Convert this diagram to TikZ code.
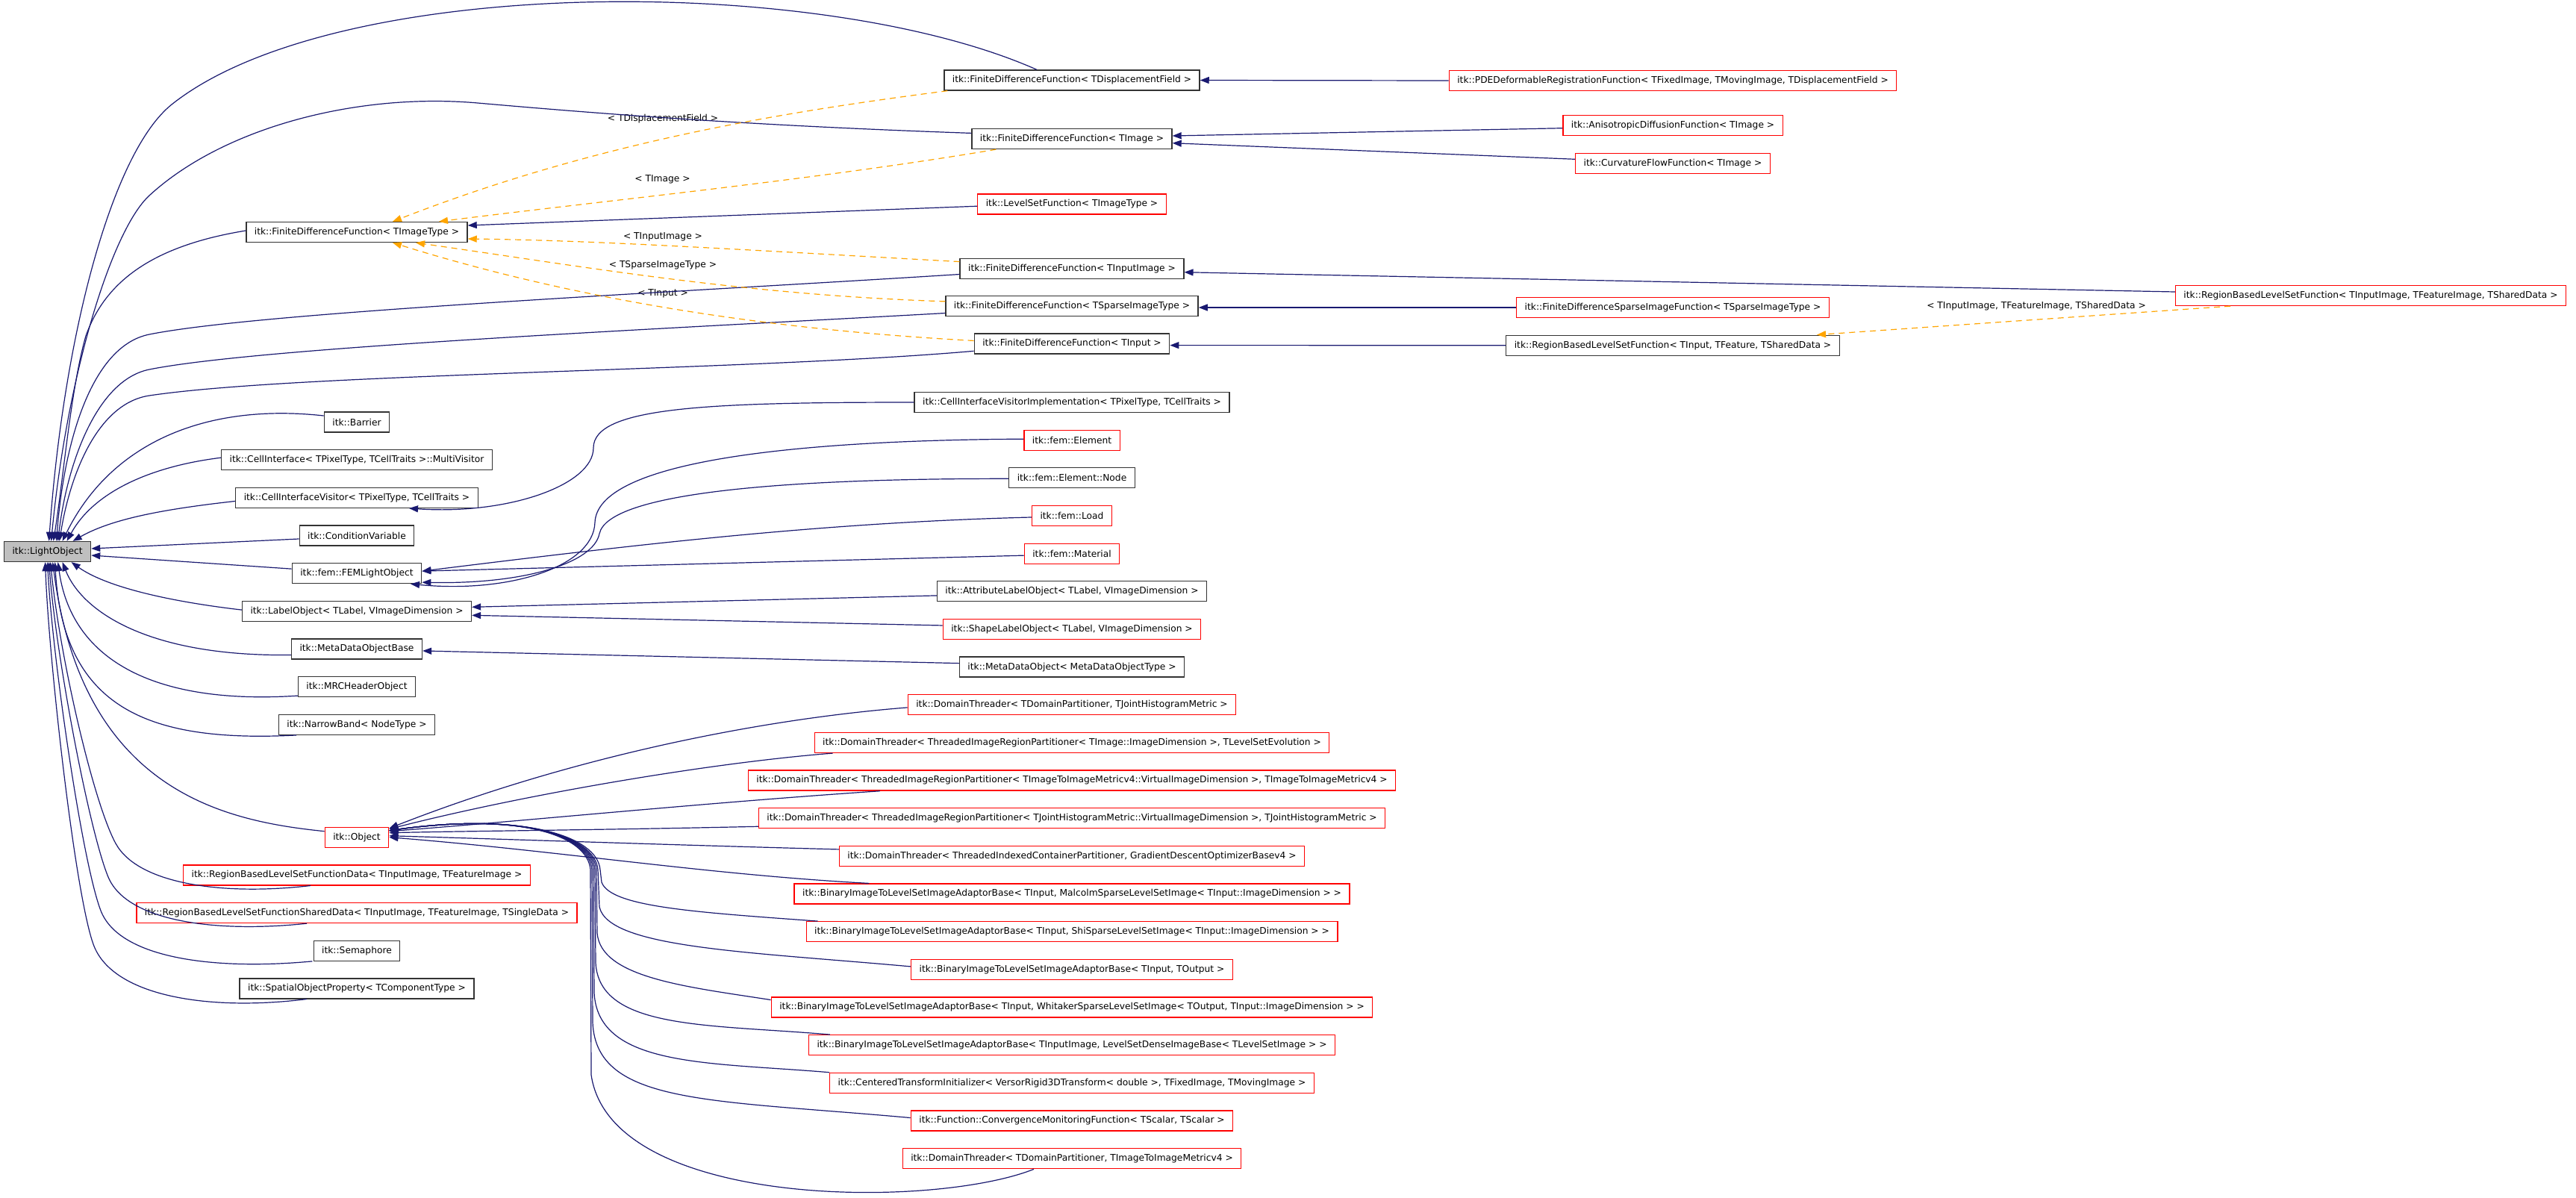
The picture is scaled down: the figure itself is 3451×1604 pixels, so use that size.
\documentclass[tikz,border=0pt]{standalone}
\usepackage{fontspec}
\setmainfont{DejaVu Sans}
\usepackage{xcolor}
\usetikzlibrary{arrows.meta,positioning}

\definecolor{edgeblue}{RGB}{25,25,112}
\definecolor{tmplorange}{RGB}{255,165,0}

\begin{document}
\begin{tikzpicture}[x=1pt, y=-1pt, node distance=50.66pt]
  % Styles
  \tikzstyle{cls} = [rectangle, draw=black!80, fill=white, line width=1.3pt, inner xsep=11pt, inner ysep=0pt, minimum height=27pt, font=\fontsize{12.25}{14}\selectfont]
  \tikzstyle{clsred} = [cls, draw=red]
  \tikzstyle{root} = [cls, fill=black!25]
  \tikzstyle{inh} = [draw=edgeblue, line width=1.2pt, -{Triangle[length=12pt, width=9pt]}]
  \tikzstyle{tmpl} = [draw=tmplorange, line width=1.2pt, dash pattern=on 8pt off 6pt, -{Triangle[length=12pt, width=9pt]}]
  \tikzstyle{lbl} = [inner sep=0pt, font=\fontsize{12.25}{14}\selectfont]

  \useasboundingbox (0,0) rectangle (3451,1604);
  \fill[white] (0,0) rectangle (3451,1604);

  % Nodes: base column
  \node [root] (lightobj) at (63.6,739) {itk::LightObject};
  \node [cls] (fdfTImageType) at (478,311) {itk::FiniteDifferenceFunction< TImageType >};
  \node [cls] (barrier) at (478,565.5) {itk::Barrier};
  \node [cls, below of=barrier] (multivisitor) {itk::CellInterface< TPixelType, TCellTraits >::MultiVisitor};
  \node [cls, below of=multivisitor] (civ) {itk::CellInterfaceVisitor< TPixelType, TCellTraits >};
  \node [cls, below of=civ] (condvar) {itk::ConditionVariable};
  \node [cls, below of=condvar] (femlight) {itk::fem::FEMLightObject};
  \node [cls, below of=femlight] (labelobj) {itk::LabelObject< TLabel, VImageDimension >};
  \node [cls, below of=labelobj] (mdobase) {itk::MetaDataObjectBase};
  \node [cls, below of=mdobase] (mrc) {itk::MRCHeaderObject};
  \node [cls, below of=mrc] (narrowband) {itk::NarrowBand< NodeType >};
  \node [clsred] (object) at (478,1121.7) {itk::Object};
  \node [clsred, below of=object] (rbdata) {itk::RegionBasedLevelSetFunctionData< TInputImage, TFeatureImage >};
  \node [clsred, below of=rbdata] (rbshared) {itk::RegionBasedLevelSetFunctionSharedData< TInputImage, TFeatureImage, TSingleData >};
  \node [cls, below of=rbshared] (semaphore) {itk::Semaphore};
  \node [cls, below of=semaphore] (spatialprop) {itk::SpatialObjectProperty< TComponentType >};

  % Nodes: second column
  \node [cls] (fdfTDisp) at (1436,107.5) {itk::FiniteDifferenceFunction< TDisplacementField >};
  \node [cls] (fdfTImage) at (1436,186) {itk::FiniteDifferenceFunction< TImage >};
  \node [clsred] (lsf) at (1436,273.5) {itk::LevelSetFunction< TImageType >};
  \node [cls] (fdfTInputImage) at (1436,359.7) {itk::FiniteDifferenceFunction< TInputImage >};
  \node [cls] (fdfTSparse) at (1436,410) {itk::FiniteDifferenceFunction< TSparseImageType >};
  \node [cls] (fdfTInput) at (1436,460.6) {itk::FiniteDifferenceFunction< TInput >};
  \node [cls] (civimpl) at (1436,539) {itk::CellInterfaceVisitorImplementation< TPixelType, TCellTraits >};
  \node [clsred, below of=civimpl] (femelem) {itk::fem::Element};
  \node [cls, below of=femelem] (femnode) {itk::fem::Element::Node};
  \node [clsred, below of=femnode] (femload) {itk::fem::Load};
  \node [clsred, below of=femload] (femmat) {itk::fem::Material};
  \node [cls, below of=femmat] (attrlabel) {itk::AttributeLabelObject< TLabel, VImageDimension >};
  \node [clsred, below of=attrlabel] (shapelabel) {itk::ShapeLabelObject< TLabel, VImageDimension >};
  \node [cls, below of=shapelabel] (mdobj) {itk::MetaDataObject< MetaDataObjectType >};
  \node [clsred, below of=mdobj] (dt1) {itk::DomainThreader< TDomainPartitioner, TJointHistogramMetric >};
  \node [clsred, below of=dt1] (dt2) {itk::DomainThreader< ThreadedImageRegionPartitioner< TImage::ImageDimension >, TLevelSetEvolution >};
  \node [clsred, below of=dt2] (dt3) {itk::DomainThreader< ThreadedImageRegionPartitioner< TImageToImageMetricv4::VirtualImageDimension >, TImageToImageMetricv4 >};
  \node [clsred, below of=dt3] (dt4) {itk::DomainThreader< ThreadedImageRegionPartitioner< TJointHistogramMetric::VirtualImageDimension >, TJointHistogramMetric >};
  \node [clsred, below of=dt4] (dt5) {itk::DomainThreader< ThreadedIndexedContainerPartitioner, GradientDescentOptimizerBasev4 >};
  \node [clsred, below of=dt5] (bil1) {itk::BinaryImageToLevelSetImageAdaptorBase< TInput, MalcolmSparseLevelSetImage< TInput::ImageDimension > >};
  \node [clsred, below of=bil1] (bil2) {itk::BinaryImageToLevelSetImageAdaptorBase< TInput, ShiSparseLevelSetImage< TInput::ImageDimension > >};
  \node [clsred, below of=bil2] (bil3) {itk::BinaryImageToLevelSetImageAdaptorBase< TInput, TOutput >};
  \node [clsred, below of=bil3] (bil4) {itk::BinaryImageToLevelSetImageAdaptorBase< TInput, WhitakerSparseLevelSetImage< TOutput, TInput::ImageDimension > >};
  \node [clsred, below of=bil4] (bil5) {itk::BinaryImageToLevelSetImageAdaptorBase< TInputImage, LevelSetDenseImageBase< TLevelSetImage > >};
  \node [clsred, below of=bil5] (cti) {itk::CenteredTransformInitializer< VersorRigid3DTransform< double >, TFixedImage, TMovingImage >};
  \node [clsred, below of=cti] (convmon) {itk::Function::ConvergenceMonitoringFunction< TScalar, TScalar >};
  \node [clsred, below of=convmon] (dt6) {itk::DomainThreader< TDomainPartitioner, TImageToImageMetricv4 >};

  % Nodes: right columns
  \node [clsred] (pde) at (2241,108) {itk::PDEDeformableRegistrationFunction< TFixedImage, TMovingImage, TDisplacementField >};
  \node [clsred] (aniso) at (2241,168) {itk::AnisotropicDiffusionFunction< TImage >};
  \node [clsred] (curv) at (2241,219) {itk::CurvatureFlowFunction< TImage >};
  \node [clsred] (fdsif) at (2241,412) {itk::FiniteDifferenceSparseImageFunction< TSparseImageType >};
  \node [cls] (rblsfT) at (2241,462.7) {itk::RegionBasedLevelSetFunction< TInput, TFeature, TSharedData >};
  \node [clsred] (rblsfInst) at (3176,396) {itk::RegionBasedLevelSetFunction< TInputImage, TFeatureImage, TSharedData >};

  % Template labels
  \node [lbl] (lblDisp) at (888,159) {< TDisplacementField >};
  \node [lbl] (lblImage) at (887.5,240) {< TImage >};
  \node [lbl] (lblInputImage) at (888,317.7) {< TInputImage >};
  \node [lbl] (lblSparse) at (888,355.5) {< TSparseImageType >};
  \node [lbl] (lblInput) at (888,393.6) {< TInput >};
  \node [lbl] (lblRegion) at (2728,410) {< TInputImage, TFeatureImage, TSharedData >};

  % Edges into LightObject
  \draw [inh] ([xshift=-47pt]fdfTDisp.north) .. controls (1100,-35) and (450,-35) .. (230,140) .. controls (150,204) and (85,450) .. ([xshift=2pt]lightobj.north);
  \draw [inh] ([yshift=7.6pt]fdfTImage.west) .. controls (1000,168) and (800,152) .. (640,138) .. controls (480,124) and (300,170) .. (200,262) .. controls (150,308) and (90,500) .. ([xshift=5pt]lightobj.north);
  \draw [inh] ([yshift=2pt]fdfTImageType.west) .. controls (200,330) and (140,380) .. (115,450) .. controls (95,520) and (85,640) .. ([xshift=8pt]lightobj.north);
  \draw [inh] ([yshift=-7.8pt]fdfTInputImage.west) .. controls (900,392) and (350,418) .. (200,448) .. controls (120,464) and (85,600) .. ([xshift=12pt]lightobj.north);
  \draw [inh] ([yshift=-9.5pt]fdfTSparse.west) .. controls (900,440) and (350,465) .. (200,495) .. controls (130,509) and (90,620) .. ([xshift=14pt]lightobj.north);
  \draw [inh] ([yshift=-9.7pt]fdfTInput.west) .. controls (1000,497) and (400,500) .. (200,530) .. controls (133,540) and (95,630) .. ([xshift=16pt]lightobj.north);
  \draw [inh] ([yshift=8.5pt]barrier.west) .. controls (280,540) and (150,590) .. ([xshift=20pt]lightobj.north);
  \draw [inh] ([yshift=3pt]multivisitor.west) .. controls (200,625) and (125,660) .. ([xshift=26pt]lightobj.north);
  \draw [inh] ([yshift=-4.6pt]civ.west) .. controls (220,682) and (150,695) .. ([xshift=34pt]lightobj.north);
  \draw [inh] ([yshift=-4.5pt]condvar.west) -- ([yshift=4pt]lightobj.east);
  \draw [inh] ([yshift=6pt]femlight.west) -- ([yshift=-5pt]lightobj.east);
  \draw [inh] ([yshift=1.7pt]labelobj.west) .. controls (220,805) and (140,785) .. ([xshift=32pt]lightobj.south);
  \draw [inh] ([yshift=-8pt]mdobase.west) .. controls (200,880) and (110,820) .. ([xshift=20pt]lightobj.south);
  \draw [inh] ([yshift=-12pt]mrc.west) .. controls (200,945) and (95,880) .. ([xshift=14pt]lightobj.south);
  \draw [inh] ([xshift=-81pt]narrowband.south) .. controls (200,995) and (85,950) .. ([xshift=10pt]lightobj.south);
  \draw [inh] ([yshift=8pt]object.west) .. controls (300,1100) and (110,1060) .. ([xshift=7pt]lightobj.south);
  \draw [inh] ([xshift=-62pt]rbdata.south) .. controls (300,1200) and (185,1185) .. (155,1130) .. controls (125,1075) and (80,880) .. ([xshift=4pt]lightobj.south);
  \draw [inh] ([xshift=-67pt]rbshared.south) .. controls (290,1250) and (170,1235) .. (145,1175) .. controls (120,1115) and (75,880) .. ([xshift=2pt]lightobj.south);
  \draw [inh] ([xshift=-59.5pt]semaphore.south) .. controls (290,1300) and (160,1285) .. (135,1220) .. controls (110,1155) and (70,880) .. (lightobj.south);
  \draw [inh] ([xshift=-67pt]spatialprop.south) .. controls (280,1355) and (150,1335) .. (125,1265) .. controls (100,1195) and (65,880) .. ([xshift=-3pt]lightobj.south);

  % Template instances
  \draw [tmpl] ([xshift=5pt]fdfTDisp.south west) .. controls (1050,150) and (800,190) .. ([xshift=48pt]fdfTImageType.north);
  \draw [tmpl] ([xshift=33pt]fdfTImage.south west) .. controls (1100,240) and (800,270) .. ([xshift=110pt]fdfTImageType.north);
  \draw [tmpl] ([yshift=-5pt]fdfTInputImage.north west) .. controls (1000,335) and (800,322) .. ([yshift=-9pt]fdfTImageType.east);
  \draw [tmpl] ([yshift=-8pt]fdfTSparse.north west) .. controls (1000,395) and (800,360) .. ([xshift=79pt]fdfTImageType.south);
  \draw [tmpl] ([yshift=-10pt]fdfTInput.north west) .. controls (1000,440) and (750,395) .. ([xshift=48pt]fdfTImageType.south);
  \draw [tmpl] ([xshift=-188pt]rblsfInst.south) -- ([xshift=193pt]rblsfT.north);

  % Derived function classes
  \draw [inh] ([yshift=-2.7pt]lsf.west) -- ([yshift=9pt]fdfTImageType.east);
  \draw [inh] (pde.west) -- (fdfTDisp.east);
  \draw [inh] ([yshift=-3.7pt]aniso.west) -- ([yshift=4pt]fdfTImage.east);
  \draw [inh] ([yshift=5.7pt]curv.west) -- ([yshift=-5.7pt]fdfTImage.east);
  \draw [inh] ([yshift=5pt]rblsfInst.west) -- ([yshift=-5pt]fdfTInputImage.east);
  \draw [inh] (fdsif.west) -- ([yshift=-2pt]fdfTSparse.east);
  \draw [inh] (rblsfT.west) -- ([yshift=-2pt]fdfTInput.east);

  % Visitor, FEM, label and meta data classes
  \draw [inh] (civimpl.west) .. controls (950,539) and (795,545) .. (795,600) .. controls (795,650) and (680,690) .. ([xshift=70pt]civ.south);
  \draw [inh] ([yshift=1.5pt]femelem.west) .. controls (1050,590) and (800,620) .. (797,700) .. controls (795,760) and (680,795) .. ([xshift=72pt]femlight.south);
  \draw [inh] ([yshift=-1pt]femnode.west) .. controls (1050,641) and (815,660) .. (803,715) .. controls (795,755) and (700,783) .. ([yshift=-12pt]femlight.east);
  \draw [inh] ([yshift=-2pt]femload.west) .. controls (1100,700) and (850,730) .. ([yshift=3pt]femlight.east);
  \draw [inh] ([yshift=-2.5pt]femmat.west) -- ([yshift=3pt]femlight.east);
  \draw [inh] ([yshift=-5.6pt]attrlabel.west) -- ([yshift=5.5pt]labelobj.east);
  \draw [inh] ([yshift=5pt]shapelabel.west) -- ([yshift=-5.5pt]labelobj.east);
  \draw [inh] ([yshift=5pt]mdobj.west) -- ([yshift=-2.5pt]mdobase.east);

  % Object subclasses
  \draw [inh] ([yshift=-3.6pt]dt1.west) .. controls (1000,965) and (750,1020) .. ([yshift=12pt]object.east);
  \draw [inh] ([xshift=25pt]dt2.south west) .. controls (950,1022) and (700,1065) .. ([yshift=11pt]object.east);
  \draw [inh] ([xshift=177pt]dt3.south west) .. controls (950,1075) and (700,1100) .. ([yshift=8pt]object.east);
  \draw [inh] ([yshift=-11pt]dt4.west) .. controls (800,1112) and (650,1113) .. ([yshift=6pt]object.east);
  \draw [inh] ([yshift=9pt]dt5.west) .. controls (900,1132) and (700,1125) .. ([yshift=2pt]object.east);
  \draw [inh] ([xshift=101pt]bil1.north west) .. controls (950,1172) and (750,1140) .. (object.east);
  \draw [inh] ([xshift=16pt]bil2.north west) .. controls (930,1222) and (818,1215) .. (806,1182) -- (804,1165) .. controls (800,1120) and (700,1088) .. ([yshift=9pt]object.east);
  \draw [inh] ([yshift=4pt]bil3.west) .. controls (1000,1275) and (815,1270) .. (803,1215) -- (801,1165) .. controls (797,1120) and (700,1088) .. ([yshift=9pt]object.east);
  \draw [inh] ([yshift=10pt]bil4.west) .. controls (920,1322) and (805,1310) .. (800,1250) -- (799,1165) .. controls (795,1120) and (700,1088) .. ([yshift=9pt]object.east);
  \draw [inh] ([xshift=29pt]bil5.north west) .. controls (950,1372) and (803,1380) .. (798,1290) -- (797,1165) .. controls (793,1120) and (700,1088) .. ([yshift=9pt]object.east);
  \draw [inh] (cti.north west) .. controls (950,1423) and (801,1430) .. (796,1330) -- (795,1165) .. controls (791,1120) and (700,1088) .. ([yshift=9pt]object.east);
  \draw [inh] ([yshift=4pt]convmon.west) .. controls (950,1473) and (799,1480) .. (794,1370) -- (793,1165) .. controls (789,1120) and (700,1088) .. ([yshift=9pt]object.east);
  \draw [inh] ([xshift=-51pt]dt6.south) .. controls (1250,1620) and (818,1620) .. (792,1440) -- (791,1165) .. controls (787,1120) and (700,1088) .. ([yshift=9pt]object.east);

\end{tikzpicture}
\end{document}
